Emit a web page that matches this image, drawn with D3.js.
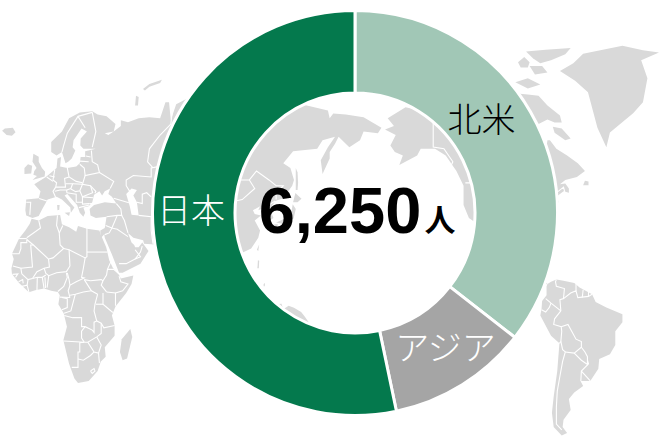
<!DOCTYPE html>
<html>
<head>
<meta charset="utf-8">
<script src="https://cdnjs.cloudflare.com/ajax/libs/d3/7.8.5/d3.min.js"></script>
<style>
  html, body { margin: 0; padding: 0; background: #fff; }
  svg { display: block; }
</style>
</head>
<body>
<div id="chart"></div>
<script>
// Chart values (people)
var regions = ["北米", "アジア", "日本"];
var people = [2220, 700, 3330];
var colors = ["#a1c7b6", "#a5a5a5", "#04794d"];
var labelColors = ["#000000", "#ffffff", "#ffffff"];
var totalText = "6,250";
var unitText = "人";

// Background map outlines as [longitude, latitude], Pacific centred (Americas run past 180)
var eurasia = [[-9,37],[-9.5,39],[-9,43],[-2,43.5],[-1,46],[-4.5,48.5],[2,51],[4,52],[8,54],[8.5,57],[10.5,57.5],[10,54.5],[14,54],[19,54.5],[21,55.5],[21.5,57.5],[24,57.5],[24,59.3],[30,60],[23,60],[21.3,61],[21.5,63],[25,65],[22,65.8],[17.5,62.5],[17,60.5],[18.5,59.5],[16.5,57],[14.5,56],[13,55.5],[11,59],[8,58],[5,59],[5,62],[11,65],[15,68.5],[21,70],[28,70.3],[31,69.5],[36,69],[41,67],[40,65],[35,64.5],[37,64],[40,65],[44,66.5],[44,68],[48,67.5],[54,68.5],[60,68.8],[66,68.5],[69,72.5],[71,72.5],[72,68],[75,72],[82,73.5],[87,75],[104,77.5],[113,74],[127,73],[130,71],[140,72.5],[150,71.5],[160,70.5],[161,68.5],[163,69.7],[170,69.5],[180,68.8],[190,66],[188,64.5],[180,65],[178,62.5],[172,60.5],[166,63.5],[164,61.5],[161,59],[161,57],[157,52],[156,56.5],[160,60.5],[164,63.5],[157,62.5],[154,60],[140.5,59.3],[135,55.5],[139,54],[141,50],[140,48],[135,43.5],[130.5,42.5],[127.5,39.5],[129.5,36],[126.5,34.5],[126,37.5],[125,40],[121,39],[122,40.5],[118,39],[119,37.5],[122.5,37],[119,35],[122,31],[121,28],[117,23.5],[110,21],[108,21.5],[106,19],[109,13],[105,9],[100,13],[103,2],[98,8],[98,16],[94,16],[91,22],[87,21],[80,15],[80,10],[77.5,8],[73,19],[72,21],[67,25],[57,25.5],[56.5,27],[51,28],[48,30],[50,26],[51.5,25],[52,24],[54,24],[56,26],[59.5,22.5],[55,17],[45,13],[43,13],[39,21],[35,28],[34.7,29.5],[33,28],[32.5,30],[32.5,31],[35,32],[36,36.5],[30,36],[27,37],[26.5,39.5],[29,41],[35,42],[41.5,41.5],[39,44],[37,45],[38,47],[35,46],[33.5,44.5],[32,46],[29,44.8],[28,42],[26,40.5],[23,40],[24,38],[23,36.5],[21,38],[19.5,41],[14,45],[12.5,44.5],[16,41.5],[18,40],[16,38],[15.7,40],[11,43],[8,44],[3,43],[0,39.5],[-2,36.8],[-5.5,36]];
var africa = [[-6,35.7],[-2,35],[3,36.8],[10,37.2],[11,33.5],[15,32.3],[19,30.5],[20,32.8],[25,31.7],[32,31],[32.5,29.8],[35.8,24],[37.5,18.5],[39.5,15.2],[43,12],[44,10.5],[51,11.8],[50,8],[47,4],[41,-2],[39,-6],[40.5,-10.5],[40.5,-15],[35,-20],[35.5,-24],[32.8,-26],[31,-30],[26,-34],[20,-34.8],[18,-33],[15,-27],[11.8,-17],[13.8,-11],[12,-5],[9,-1],[9.8,3],[8.7,4.5],[5,5],[1,6],[-4,5.2],[-7.5,4.4],[-13,8.5],[-17,12.5],[-17.3,15],[-16,19],[-17,21.3],[-13,27.7],[-9.5,31],[-7,33.7]];
var madagascar = [[49.3,-12],[50.4,-15.5],[47.5,-24.8],[45,-25.5],[43.5,-22],[44.5,-16.5]];
var britain = [[-5.5,50],[1.3,51.2],[1.6,52.8],[-0.2,54],[-2,56],[-2,57.6],[-5,58.5],[-5.5,56],[-3.2,54],[-4.5,53],[-5,51.8],[-3,51.3]];
var ireland = [[-10,52],[-6.2,52.2],[-5.7,54.7],[-8,55.2],[-10,54]];
var iceland = [[-22.5,65.2],[-20,64],[-17,63.8],[-15,64.8],[-16.5,66],[-21,65.8]];
var sicily = [[12.5,38],[15.5,38.2],[15,36.8]];
var sardinia = [[8.3,41],[9.7,41],[9.5,39.2],[8.5,39]];
var sakhalin = [[142,54],[143,52.5],[143.3,49],[143,46.5],[142,46.5],[142,50]];
var hokkaido = [[140.5,42],[141.8,45.4],[145.2,43.3],[143,42]];
var honshu = [[131,34.2],[136,35.8],[139.5,38.3],[140.3,41.3],[142,39.5],[140.8,35.8],[137,34.6],[135,33.6]];
var kyushu = [[130,33.5],[132,33.5],[131,31],[130,31.5]];
var taiwan = [[121.5,25.2],[121,22.5],[120.2,23]];
var luzon = [[120.8,18.5],[121.5,18.3],[121.3,15],[120.5,15]];
var mindanao = [[124,8],[124.8,8.5],[124.6,7],[124,7]];
var newGuinea = [[131,-1],[134,-0.8],[135,-3.2],[138,-1.7],[141,-2.6],[145,-4.5],[147,-6.5],[150.5,-10.5],[141,-9],[138,-8],[133,-4]];
var northAmerica = [[192,65.5],[197,66.5],[193.5,68.5],[203.5,71.3],[219,69.7],[232,69.5],[245,68],[255,68],[266,67.5],[266,64],[265,59],[272,57],[278,55],[280,51.5],[281,55],[283,62.5],[284.4,62.5],[288,60],[294,58],[300,55.5],[304,53],[299.5,51],[293,50],[290,48.5],[293,48.8],[295,47],[295,45.5],[292,46],[290,45],[288,44],[289.5,42],[286,41],[284,35],[279,31],[280,25],[278,27],[276,30],[270,30],[263,29],[262,22],[265,19],[269,18],[273,21],[271.5,16],[276.5,15.8],[277,10],[282,9],[283,8],[278,7.5],[274,10],[268,14],[255,18],[250,24],[247,31],[250,25],[245,31],[243,34],[239,36],[236,41],[236,48],[232,53],[226,58],[220,60],[212,60],[210,58],[200,55],[202,58],[197.5,59],[195,61],[198,64]];
var southAmerica = [[283,8],[285,9],[288,10],[292,9.5],[298,8.5],[301,6.5],[308,3.5],[310,0],[316,-2.5],[325,-5.5],[325,-9],[321,-13],[321,-19],[318,-23],[312,-25],[311.5,-29],[307,-34],[301.5,-34],[303,-36],[298,-38.5],[295,-41],[296,-45],[292,-48.5],[291.5,-51],[294,-53],[291,-53.8],[286.5,-51],[285.5,-46],[286.5,-40],[288.5,-30],[289.7,-18.3],[285,-15],[279,-6],[279.7,-3],[280,0.5],[282.5,3],[282.5,7]];
var greenland = [[290,79.3],[297.5,80.8],[303,82.6],[325,84],[336.5,83.2],[345.5,82.8],[335.5,81.4],[339,77.8],[336.5,72.5],[331,69.8],[318,64.7],[316,60.5],[311,66],[305.7,74.8],[298.5,77.3]];
var ellesmere = [[271,83],[282,83.3],[296,83.6],[293,82.5],[285,81.4],[279,80.8],[275,81.7]];
var axelHeiberg = [[266.5,81],[270,82],[273,81],[272,80],[268,80]];
var arcticPieceA = [[273,80.3],[280,80.3],[283,79],[276,78.6]];
var arcticPieceB = [[265,77],[272,77.8],[279,76.5],[272,75.6]];
var baffin = [[266,74.5],[272,74.3],[278,74],[283,71.7],[290,69.2],[291,67.4],[287,67.4],[283,68.2],[278,67]];
var baffinSouth = [[286,66.3],[291,65.8],[296,63],[293,62.5],[287,64.6]];
var southampton = [[276.5,69],[278,69],[278.5,67.2],[277,67.2]];
var newfoundland = [[303,48.2],[306,48.2],[306,49.5],[304,49.7]];
var novayaSouth = [[52,71.7],[52.5,74],[54,73.7],[53.6,71.7]];
var novayaNorth = [[56.4,75.5],[60,76.6],[67,77.5],[66,76.8],[60,76],[57.5,75.2]];
var caspian = [[47,45],[50,47],[53,46.5],[51,44.5],[53,42],[54,37],[50,37.3],[49,40.5]];
var landShapes = [eurasia, africa, madagascar, britain, ireland, iceland, sicily, sardinia, sakhalin, hokkaido, honshu, kyushu, taiwan, luzon, mindanao, newGuinea, northAmerica, southAmerica, greenland, ellesmere, axelHeiberg, arcticPieceA, arcticPieceB, baffin, baffinSouth, southampton, newfoundland, novayaSouth, novayaNorth];

var africaBorders = [
  [[-2,35],[-1,32],[-8.7,28]], [[-8.7,27.7],[-13,27.7]], [[-8.7,27.3],[-8.7,26],[-12,26],[-12,23.4],[-13,21.3],[-17,21.3]],
  [[-8.7,27.3],[-5,25],[3.5,19]], [[-5,25],[-6.5,25],[-5.5,15.5],[-12,15]], [[-16.5,16],[-12,15],[-11.5,12.5]],
  [[8.5,37],[8,33],[9.5,30],[10,25],[12,23.5],[6,19.5],[3.5,19]], [[3.5,19],[4,15.5],[1,15],[-3,13.5],[-5.5,10.5]],
  [[-11.5,12.5],[-8,10],[-5.5,10.5]], [[11.5,33],[9.5,30]], [[25,32],[25,20],[24,19.5],[15,23],[12,23.5]], [[25,22],[36.5,22]],
  [[15,23],[15.5,16],[13.5,13.5],[8,13],[3.6,11.7],[2,12.7],[1,15]], [[3.6,11.7],[2.7,6.4]], [[13.5,13],[14,11],[12,7],[8.7,4.7]],
  [[14,13],[15,10],[15.5,7.5],[19,9],[23.5,10.7],[22,11],[23,15],[24,19.5]], [[23.5,10],[27,9.5],[33,10],[34,9.5]],
  [[38.5,18],[36.5,14.5],[36,12],[34,9.5],[33,7.5],[36,4.5]], [[15.5,3],[18.5,3.5],[23,4.5],[27.5,5]], [[23.5,10],[27.5,5],[31,3.5]],
  [[15.5,7.5],[14.5,5],[15.5,2]], [[9.8,2.2],[15.5,2]], [[11,2],[14,1.5],[14,-2.5],[11,-3.5]], [[18.5,3.5],[16,-4],[12.2,-5]],
  [[12.3,-6],[17,-7],[22,-7],[22,-11],[24,-11],[28,-12.5],[29,-13.5],[29,-9],[30.5,-8.5]], [[31,3.5],[29.5,-1],[29,-4],[30.5,-8.5]],
  [[11.8,-17.3],[23.5,-17.8]], [[24,-11],[22,-13],[22,-16],[23.5,-17.8]], [[34,4],[34,-1],[39.5,-4.7]], [[30,-1],[34,-1]],
  [[36,4.5],[41,4],[41,-1.7]], [[41,4],[45,5],[48,8],[44,9],[43,11.5]], [[36.5,14.5],[40,14.5],[43,12.5]],
  [[30.5,-8.5],[33,-9.5],[34.5,-11.5],[40.5,-10.5]], [[33,-9.5],[33,-14],[30.5,-15.5]], [[30.5,-15.5],[25.5,-17.8],[23.5,-17.8]],
  [[25.5,-17.8],[29,-22],[31.5,-22.5],[33,-19],[30.5,-15.5]], [[23.5,-17.8],[21,-18],[21,-22],[20,-22],[20,-28.5],[16.5,-28.5]],
  [[20,-25],[23,-25.5],[27,-23.5],[29,-22]], [[31.5,-22.5],[32,-26.7]], [[27,-30],[29,-29],[29.5,-30],[28,-31],[27,-30]],
  [[-16.7,12.3],[-13.7,12.5],[-15,11]], [[-13.3,9],[-11,10],[-10.7,8.3]], [[-11.5,7],[-8.5,7.5],[-7.5,4.4]], [[-8.5,7.5],[-8,10]],
  [[-3,5],[-2.8,11]], [[1,6],[0,11]], [[-5.5,10.5],[-2.8,11],[0,11],[2,12]], [[1.8,6.3],[1.5,11]]
];
var europeAsiaBorders = [
  [[28,70],[20,69],[14,64.5],[12,61],[11,59]], [[20,69],[24,66]], [[28,70],[30,65],[28,60.5]],
  [[27.5,59.5],[28,56],[31,55],[32,52.5],[24,51.5],[23.5,54],[21,55.2]], [[21,56.2],[26,56]], [[24.3,57.8],[27,57.5]],
  [[24,51.5],[22.5,48.5],[27,48],[30,46],[29.5,45.3]], [[32,52.5],[40,49.5],[38,47]], [[14,54],[15,51],[19,49.5],[22.5,49]],
  [[7,53.5],[6,50],[8,49],[7.5,47.5],[13,47.5],[12.5,50.5],[15,51]], [[2.5,51],[6,49.5]], [[7.5,47.5],[6,46],[7.5,43.8]],
  [[-1.8,43.4],[3,42.4]], [[-9,42],[-6.5,42],[-7,37.2]], [[7,46],[10,46.5],[13.7,46.5],[13.7,45.5]], [[13,48.7],[17,48.7],[16,47],[13.7,46.5]],
  [[17,48.7],[22.5,48.5],[21,46.2],[18.7,45.9],[16,46.8]], [[27,48],[28.2,45.5],[22.5,44],[21,46.2]], [[22.5,44],[28.5,43.7]],
  [[22.5,44],[22.5,41.3],[26.3,41.5]], [[20.5,40],[26.3,41]], [[13.7,45.5],[19,45],[19,42],[22.5,42]], [[4,51.4],[7,51]],
  [[26.3,41.5],[28,41.5]], [[41.5,41.5],[44,39.5],[44.5,37],[42,37],[36,36.5]], [[44.5,37],[46,35],[48,30]], [[40,43.5],[48.5,41.8]],
  [[49,46],[47,48],[47,50],[51,51.5],[61,51],[61,54],[70,55]], [[53,42],[56,41.5],[56,45],[58.5,45.5],[61,44]], [[54,37],[61,36.5],[61,31],[62,25.5]],
  [[35,29.3],[37.5,30],[39,32],[42,31.5],[47,29],[48,28.5]], [[39,32],[42,37]], [[35.5,33],[39,32]], [[43,17],[47,17],[52,19],[55,20],[52,23]], [[56,24.5],[55,22],[52,19]],
  [[73,71],[72,67],[66,64],[60,60],[59,56],[62,54]], [[65,42],[68,37],[75,37],[80,42],[87,49],[98,52],[107,50],[116,50],[119,47],[112,43],[105,42],[96,43],[90,48]],
  [[116,50],[120,53],[127,50],[131,48],[135,48],[131,45],[131,43]], [[124.5,40],[130.5,42.5]], [[125,38],[128.5,38.5]]
];
var americaBorders = [
  [[219,69.7],[219,60.5],[225,60],[230,56],[229,54.7]], [[237,49],[265,49],[272,48],[277,45],[283,44],[285,45],[289,46],[292,47.5],[293,45]],
  [[288,10],[287.5,9],[288,7],[292.5,6],[292,1.5],[290,1],[290.5,-4]], [[290.5,-4],[285,-0.5],[282,1.5]], [[285,-0.5],[284,-2.5],[282,-4.5],[279.7,-3.5]],
  [[290.5,-4],[287,-7.5],[286.5,-10],[290.7,-11],[291,-13],[290.5,-17.5],[289.7,-18.3]], [[290.7,-11],[294.5,-10],[299,-16.5],[302,-17.5],[302,-20],[298,-22.5],[293,-22]],
  [[290.5,-17.5],[291.5,-21],[293,-22],[291.5,-26],[290,-32],[288.5,-38],[288,-44],[288,-50],[291,-52]], [[298,-22.5],[302,-25.5],[305.4,-27.3],[305.4,-24],[304,-22],[302,-20]],
  [[305.4,-25.5],[306,-27],[302,-30],[301.7,-34]], [[302,-30],[307,-34]], [[299,8],[299,5]], [[292,1.5],[296,4],[299,5],[300,2],[306,2.5],[308,3.5]],
  [[303,5.5],[302.5,2]], [[306,4.5],[306,2.5]]
];
var allBorders = africaBorders.concat(europeAsiaBorders, americaBorders);

var svgWidth = 659;
var svgHeight = 440;
var centerX = 355;
var centerY = 213;

var svg = d3.select("#chart")
  .append("svg")
    .attr("width", svgWidth)
    .attr("height", svgHeight);

// Map scales: Miller style latitude stretch
var lonScale = d3.scaleLinear().domain([0, 180]).range([42.3, 363.6]);
var millerScale = d3.scaleLinear().domain([0, 1]).range([302, 174]);
function latY(lat) {
  var rad = lat * Math.PI / 180;
  return millerScale(1.25 * Math.log(Math.tan(Math.PI / 4 + 0.4 * rad)));
}
var mapLine = d3.line()
  .x(d => lonScale(d[0]))
  .y(d => latY(d[1]));

var mapGroup = svg.append("g");

mapGroup.selectAll("path.land")
  .data(landShapes)
  .enter()
  .append("path")
    .attr("class", "land")
    .attr("d", d => mapLine(d) + "Z")
    .attr("fill", "#d9d9d9");

mapGroup.append("path")
  .attr("d", mapLine(caspian) + "Z")
  .attr("fill", "#ffffff");

mapGroup.selectAll("path.border")
  .data(allBorders)
  .enter()
  .append("path")
    .attr("class", "border")
    .attr("d", mapLine)
    .attr("fill", "none")
    .attr("stroke", "#ffffff")
    .attr("stroke-width", 1.1);

// Donut
var pie = d3.pie().sort(null).value(d => d);
var arc = d3.arc().innerRadius(120).outerRadius(202.5);

var donut = svg.append("g")
  .attr("transform", `translate(${centerX}, ${centerY})`);

donut.selectAll("path")
  .data(pie(people))
  .enter()
  .append("path")
    .attr("d", arc)
    .attr("fill", (d, i) => colors[i])
    .attr("stroke", "#ffffff")
    .attr("stroke-width", 3);

// Region labels
var labelX = [481.5, 445.5, 191];
var labelY = [132, 360, 223];
svg.selectAll("text.region")
  .data(regions)
  .enter()
  .append("text")
    .attr("class", "region")
    .attr("x", (d, i) => labelX[i])
    .attr("y", (d, i) => labelY[i])
    .attr("text-anchor", "middle")
    .attr("font-family", "'Noto Sans CJK JP', sans-serif")
    .attr("font-weight", 300)
    .attr("font-size", 34)
    .attr("fill", (d, i) => labelColors[i])
    .text(d => d);

// Total in the middle
svg.append("text")
  .attr("x", 340)
  .attr("y", 233)
  .attr("text-anchor", "middle")
  .attr("font-family", "'Liberation Sans', Arial, sans-serif")
  .attr("font-weight", "bold")
  .attr("font-size", 65)
  .attr("fill", "#000000")
  .text(totalText);

svg.append("text")
  .attr("x", 440)
  .attr("y", 231)
  .attr("text-anchor", "middle")
  .attr("font-family", "'Noto Sans CJK JP', sans-serif")
  .attr("font-weight", "bold")
  .attr("font-size", 31)
  .attr("fill", "#000000")
  .text(unitText);
</script>
</body>
</html>
